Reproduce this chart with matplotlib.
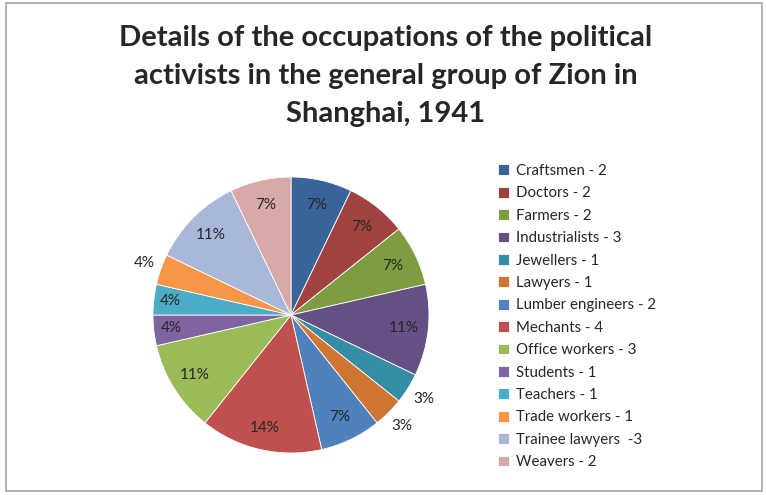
import matplotlib
matplotlib.use("Agg")
import matplotlib.pyplot as plt
from matplotlib.patches import Rectangle
import numpy as np

plt.rcParams['font.family'] = ['Lato', 'DejaVu Sans']

title_lines = ["Details of the occupations of the political",
               "activists in the general group of Zion in",
               "Shanghai, 1941"]
categories = ["Craftsmen - 2", "Doctors - 2", "Farmers - 2", "Industrialists - 3",
              "Jewellers - 1", "Lawyers - 1", "Lumber engineers - 2", "Mechants - 4",
              "Office workers - 3", "Students - 1", "Teachers - 1", "Trade workers - 1",
              "Trainee lawyers  -3", "Weavers - 2"]
values = [2, 2, 2, 3, 1, 1, 2, 4, 3, 1, 1, 1, 3, 2]
pct_labels = ["7%", "7%", "7%", "11%", "3%", "3%", "7%", "14%", "11%",
              "4%", "4%", "4%", "11%", "7%"]
colors = ["#386499", "#A04340", "#7E9D40", "#664F85", "#358DA3", "#D07632",
          "#4F81BD", "#C0504D", "#9BBB59", "#8064A2", "#4BACC6", "#F79646",
          "#A9B8D9", "#D9A9A8"]
label_dist = [0.82, 0.82, 0.82, 0.82, 1.14, 1.14, 0.82, 0.84, 0.82,
              0.87, 0.88, 1.13, 0.82, 0.82]

W, H = 766, 495
fig = plt.figure(figsize=(W / 100, H / 100), dpi=100)

# outer border
fig.patches.append(Rectangle((6 / W, 4 / H), 756 / W, 488 / H, transform=fig.transFigure,
                             fill=False, edgecolor="#A6A6A6", linewidth=1.2))

for i, line in enumerate(title_lines):
    fig.text(386 / W, 1 - (46 + 38 * i) / H, line, ha="center", va="baseline",
             fontsize=21, fontweight="bold", color="#262626")

cx, cy, r = 291, 315, 138
ax = fig.add_axes([(cx - r) / W, (H - cy - r) / H, 2 * r / W, 2 * r / H])
wedges, _ = ax.pie(values, colors=colors, startangle=90, counterclock=False,
                   wedgeprops=dict(edgecolor="white", linewidth=0.6))
ax.set_xlim(-1, 1)
ax.set_ylim(-1, 1)
ax.set_aspect("equal")
ax.axis("off")

for w, lab, d in zip(wedges, pct_labels, label_dist):
    ang = np.deg2rad((w.theta1 + w.theta2) / 2)
    ax.text(d * np.cos(ang), d * np.sin(ang), lab, ha="center", va="center",
            fontsize=11, color="#262626", clip_on=False)

leg = fig.legend(wedges, categories, loc="upper left",
                 bbox_to_anchor=(492 / W, 1 - 158 / H), frameon=False,
                 fontsize=10.8, handlelength=0.72, handleheight=0.72,
                 handletextpad=0.45, labelspacing=0.56, borderaxespad=0)
for t in leg.get_texts():
    t.set_color("#262626")

fig.savefig("out.png", dpi=100)
